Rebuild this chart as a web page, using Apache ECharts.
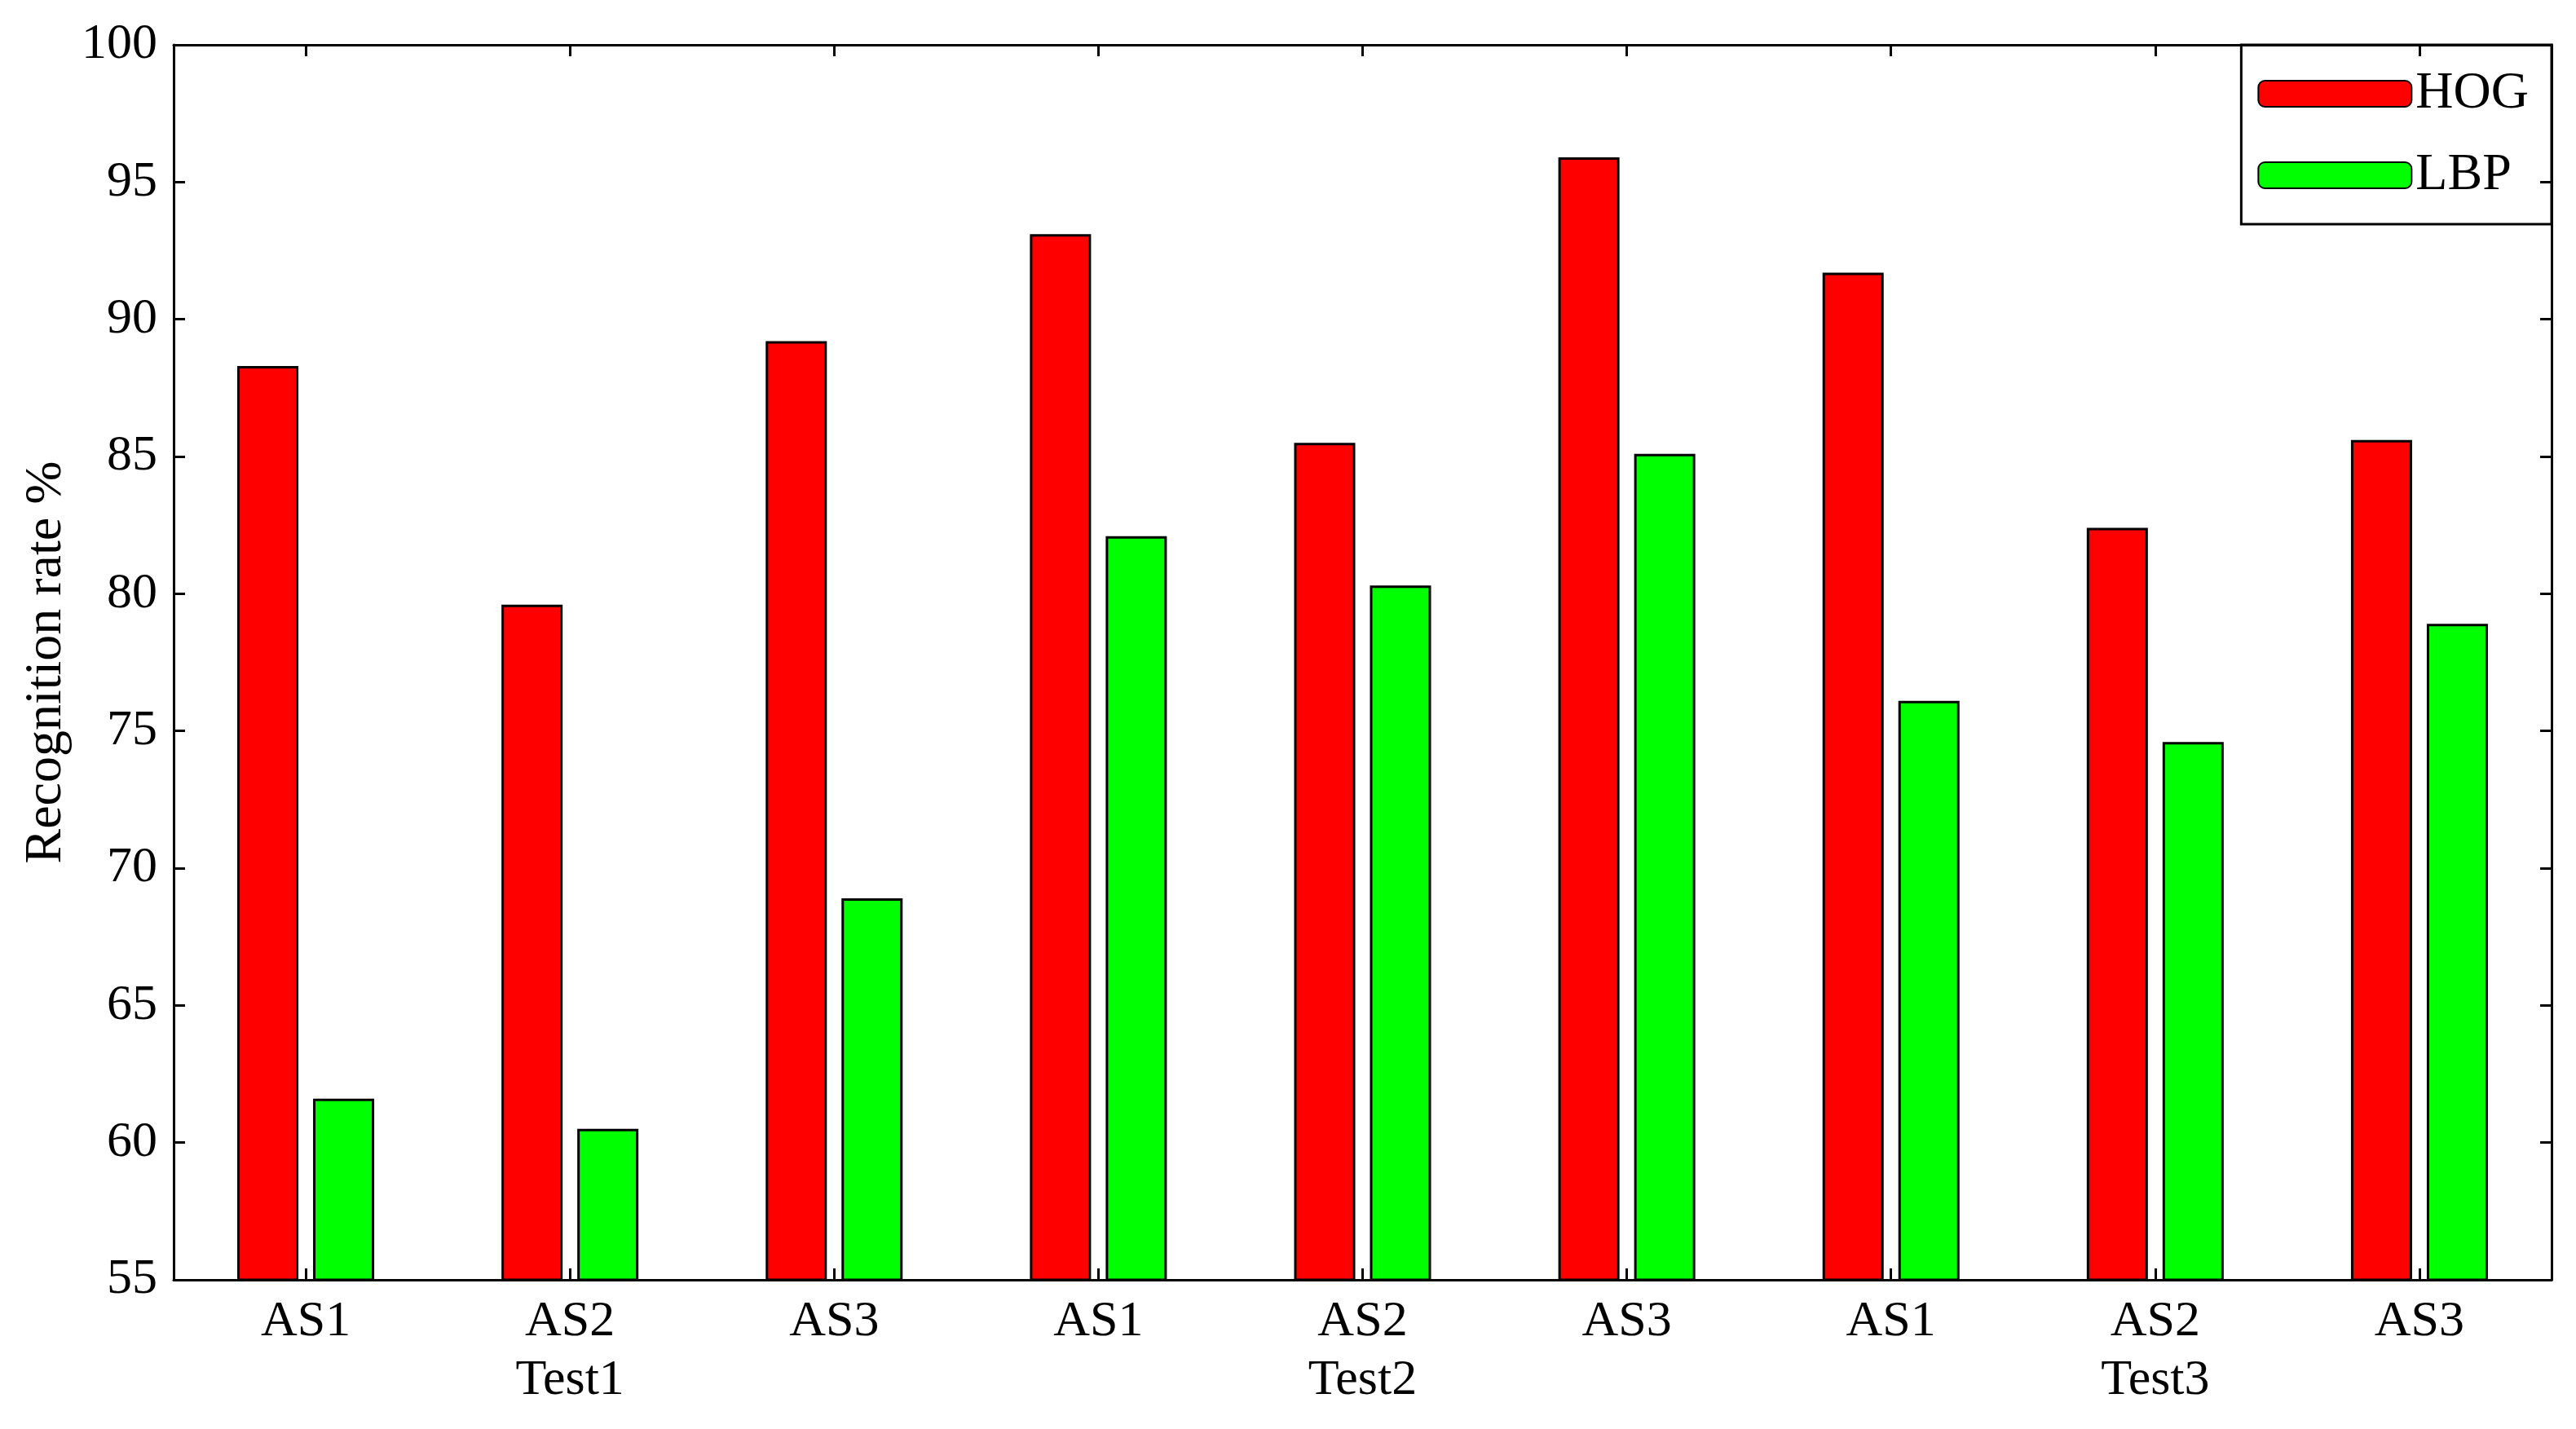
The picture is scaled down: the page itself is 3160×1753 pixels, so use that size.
<!DOCTYPE html>
<html>
<head>
<meta charset="utf-8">
<script src="https://cdn.jsdelivr.net/npm/echarts@6/dist/echarts.min.js"></script>
<style>html,body{margin:0;padding:0;background:#fff;}</style>
</head>
<body>
<div id="chart" style="width:3160px;height:1753px;"></div>
<script>
var categories = ['AS1', 'AS2\nTest1', 'AS3', 'AS1', 'AS2\nTest2', 'AS3', 'AS1', 'AS2\nTest3', 'AS3'];
var hog = [88.3, 79.6, 89.2, 93.1, 85.5, 95.9, 91.7, 82.4, 85.6];
var lbp = [61.6, 60.5, 68.9, 82.1, 80.3, 85.1, 76.1, 74.6, 78.9];
var yTicks = { min: 55, max: 100, interval: 5 };

var font = 'Liberation Serif';
var chart = echarts.init(document.getElementById('chart'));

var axisLine = { show: true, lineStyle: { color: '#000', width: 3 } };
var tickIn = { show: true, inside: true, length: 14, lineStyle: { color: '#000', width: 3 } };

chart.setOption({
	animation: false,
	grid: { left: 213, right: 30, top: 55, bottom: 183 },
	legend: {
		right: 30, top: 55, orient: 'vertical', itemWidth: 188, itemHeight: 32, itemGap: 36,
		padding: [28, 28, 28, 20], borderColor: '#000', borderWidth: 3, borderRadius: 0,
		textStyle: { fontFamily: font, fontSize: 64, color: '#000' },
		data: ['HOG', 'LBP']
	},
	xAxis: [{
		type: 'category', data: categories,
		axisLine: axisLine, axisTick: { show: true, inside: true, alignWithLabel: true, length: 14, lineStyle: { color: '#000', width: 3 } },
		axisLabel: { fontFamily: font, fontSize: 62, color: '#000', lineHeight: 72, margin: 16 }
	}, {
		type: 'category', data: categories, position: 'top',
		axisLine: axisLine, axisTick: { show: true, inside: true, alignWithLabel: true, length: 14, lineStyle: { color: '#000', width: 3 } },
		axisLabel: { show: false }
	}],
	yAxis: [{
		type: 'value', min: yTicks.min, max: yTicks.max, interval: yTicks.interval,
		name: 'Recognition rate %', nameLocation: 'middle', nameGap: 120,
		nameTextStyle: { fontFamily: font, fontSize: 64, color: '#000' },
		axisLine: axisLine, axisTick: tickIn, splitLine: { show: false },
		axisLabel: { fontFamily: font, fontSize: 62, color: '#000', margin: 20 }
	}, {
		type: 'value', min: yTicks.min, max: yTicks.max, interval: yTicks.interval, position: 'right',
		axisLine: axisLine, axisTick: tickIn, splitLine: { show: false }, axisLabel: { show: false }
	}],
	series: [{
		name: 'HOG', type: 'bar', data: hog, barWidth: 75, barGap: '24%',
		itemStyle: { color: '#ff0000', borderColor: '#000', borderWidth: 3 }
	}, {
		name: 'LBP', type: 'bar', data: lbp, barWidth: 75,
		itemStyle: { color: '#00ff00', borderColor: '#000', borderWidth: 3 }
	}]
});
</script>
</body>
</html>
